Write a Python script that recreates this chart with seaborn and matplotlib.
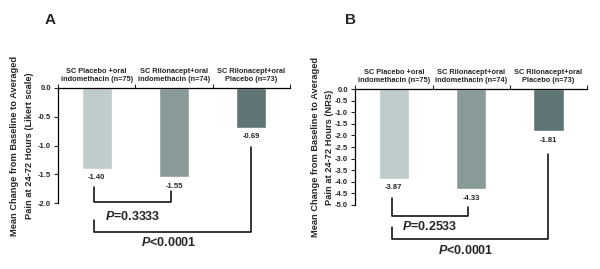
import matplotlib
matplotlib.use('Agg')
import matplotlib.pyplot as plt
import matplotlib.transforms as mtransforms
import seaborn as sns
import pandas as pd

# data
groups = ['SC Placebo +oral\nindomethacin (n=75)',
          'SC Rilonacept+oral\nindomethacin (n=74)',
          'SC Rilonacept+oral\nPlacebo (n=73)']
likert_change = [-1.40, -1.55, -0.69]
nrs_change = [-3.87, -4.33, -1.81]
bar_colors = ['#bfcccb', '#899b98', '#5f7474']
p_near = ['0.3333', '0.2533']
p_far = '<0.0001'

sns.set_style('white')
plt.rcParams['font.family'] = ['Liberation Sans', 'DejaVu Sans']
plt.rcParams['mathtext.fontset'] = 'custom'
plt.rcParams['mathtext.it'] = 'Liberation Sans:italic:bold'

fig = plt.figure(figsize=(6.0, 2.69), dpi=100)
axA = fig.add_axes([0.0967, 0.245, 0.3866, 0.428])
axB = fig.add_axes([0.592, 0.238, 0.3866, 0.431])


def draw_panel(ax, vals, ylim, yticks, ylabel, letter, letter_x, pval, br1, br2, ptxt, lab_x):
    df = pd.DataFrame({'group': groups, 'change': vals})
    sns.barplot(data=df, x='group', y='change', hue='group', palette=bar_colors,
                width=0.39, legend=False, ax=ax, saturation=1)
    ax.set_xlim(-0.5, 2.5)
    ax.set_ylim(*ylim)
    ax.set_yticks(yticks)
    ax.set_yticklabels([f'{t:.1f}' for t in yticks], fontsize=5.5, fontweight='bold')
    ax.tick_params(axis='y', direction='out', length=3, width=0.8, pad=2, left=True)
    ax.xaxis.tick_top()
    ax.set_xticks([-0.5, 0.5, 1.5, 2.5])
    ax.set_xticklabels([])
    ax.tick_params(axis='x', direction='out', length=3, width=0.8, top=True, bottom=False)
    ax.set_xlabel('')
    ax.set_ylabel(ylabel, fontsize=6.7, fontweight='bold', linespacing=1.75)
    ax.yaxis.set_label_coords(lab_x, 0.5)
    for s in ['bottom', 'right']:
        ax.spines[s].set_visible(False)
    for s in ['top', 'left']:
        ax.spines[s].set_color('black')
        ax.spines[s].set_linewidth(0.9)

    trans = mtransforms.blended_transform_factory(ax.transData, ax.transAxes)
    for i, g in enumerate(groups):
        ax.text(i, 1.04, g, transform=trans, ha='center', va='bottom',
                fontsize=5.35, fontweight='bold', linespacing=1.2)
    for i, v in enumerate(vals):
        ax.annotate(f'{v:.2f}', (i, v), xytext=(0, -4), textcoords='offset points',
                    ha='center', va='top', fontsize=5.5, fontweight='bold')

    fig.text(letter_x, 0.926, letter, fontsize=11, fontweight='bold',
             ha='left', va='center')

    # brackets
    l_top, bot, r_top = br1
    ax.plot([-0.03, -0.03, 0.96, 0.96], [l_top, bot, bot, r_top], color='black',
            lw=1.1, clip_on=False)
    l_top2, bot2, r_top2 = br2
    ax.plot([-0.03, -0.03, 1.99, 1.99], [l_top2, bot2, bot2, r_top2], color='black',
            lw=1.1, clip_on=False)
    ax.text(0.47, ptxt[0], r'$\mathit{P}$' + f'={pval}', ha='center', va='center',
            fontsize=9, fontweight='bold')
    ax.text(0.93, ptxt[1], r'$\mathit{P}$' + p_far, ha='center', va='center',
            fontsize=9, fontweight='bold')


draw_panel(axA, likert_change, (-2.0, 0.0), [0.0, -0.5, -1.0, -1.5, -2.0],
           'Mean Change from Baseline to Averaged\nPain at 24-72 Hours (Likert scale)',
           'A', 0.075, p_near[0], (-1.72, -1.98, -1.79), (-2.30, -2.50, -1.03),
           (-2.24, -2.69), -0.105)
draw_panel(axB, nrs_change, (-5.0, 0.0), [0.0, -0.5, -1.0, -1.5, -2.0, -2.5, -3.0,
                                          -3.5, -4.0, -4.5, -5.0],
           'Mean Change from Baseline to Averaged\nPain at 24-72 Hours (NRS)',
           'B', 0.575, p_near[1], (-4.70, -5.47, -5.09), (-5.95, -6.47, -2.80),
           (-5.92, -6.95), -0.09)

fig.savefig('out.png', dpi=100)
